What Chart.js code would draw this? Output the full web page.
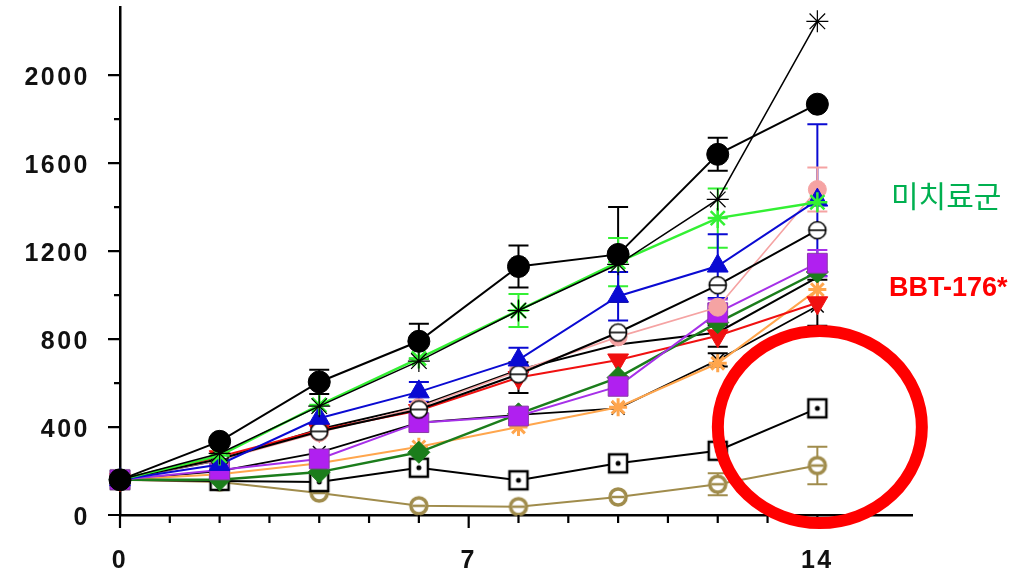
<!DOCTYPE html>
<html>
<head>
<meta charset="utf-8">
<script src="https://cdn.jsdelivr.net/npm/chart.js@4.4.1/dist/chart.umd.min.js"></script>
<style>
    html, body { margin: 0; padding: 0; background: #fff; }
    #wrap { position: relative; width: 1036px; height: 572px; overflow: hidden; }
    #wrap canvas { position: absolute; left: 0; top: 0; }
    .note { position: absolute; white-space: nowrap; line-height: 1; }
    #untreated { left: 891px; top: 172px; font: 30px "Noto Sans CJK KR"; color: #00b050; }
    #bbt { left: 889px; top: 272px; font: bold 27px "Liberation Sans"; color: #ff0000; }
</style>
</head>
<body>
<div id="wrap">
    <canvas id="growthChart" width="1036" height="572"></canvas>
    <div class="note" id="untreated">미치료군</div>
    <div class="note" id="bbt">BBT-176*</div>
</div>
<script>
// x positions (days) and axis labels
const days = [0, 2, 4, 6, 8, 10, 12, 14];
const xLabelDays = [0, 7, 14];
const yLabelValues = [0, 400, 800, 1200, 1600, 2000];

// group means
const blackCircle  = [160, 335, 605, 790, 1130, 1185, 1640, 1868];
const blackStar    = [160, 280, 495, 700, 930, 1140, 1435, 2245];
const greenStar    = [160, 270, 500, 712, 930, 1150, 1350, 1422];
const blueTriangle = [160, 230, 440, 560, 705, 995, 1132, 1432];
const openCircle   = [160, 255, 380, 480, 640, 830, 1045, 1295];
const pinkCircle   = [160, 250, 375, 490, 655, 810, 945, 1480];
const purpleSquare = [160, 205, 255, 420, 450, 585, 920, 1145];
const greenDiamond = [160, 160, 195, 285, 460, 625, 875, 1105];
const redTriangle  = [160, 265, 385, 475, 625, 705, 815, 965];
const orangeCross  = [160, 185, 235, 310, 400, 490, 690, 1025];
const blackCross   = [160, 200, 285, 420, 455, 485, 705, 950];
const blackPlain   = [160, 250, 390, 495, 660, 775, 830, 1080];
const openSquare   = [160, 155, 150, 215, 158, 235, 292, 485];
const oliveRing    = [160, 150, 100, 42, 38, 82, 140, 225];

// error bars (SEM), 0 = not visible
const blackCircleErr  = [0, 0, 55, 80, 95, 215, 75, 0];
const greenStarErr    = [0, 0, 0, 0, 75, 110, 135, 0];
const blueTriangleErr = [0, 0, 0, 45, 55, 110, 145, 345];
const pinkCircleErr   = [0, 0, 0, 0, 0, 0, 0, 100];
const purpleSquareErr = [0, 0, 0, 0, 0, 0, 60, 60];
const redTriangleErr  = [0, 0, 0, 0, 70, 0, 50, 105];
const blackCrossErr   = [0, 0, 0, 0, 0, 0, 30, 0];
const oliveRingErr    = [0, 0, 0, 0, 0, 0, 50, 85];

// red highlight ring around the day 14 result
const ringCenter = { day: 14.05, value: 400 };
const ringRadius = { x: 102, y: 96 };

function makeMarker(w, h, paint) {
    const c = document.createElement('canvas');
    c.width = w;
    c.height = h;
    paint(c.getContext('2d'), w / 2, h / 2);
    return c;
}

const openSquareMarker = makeMarker(24, 24, (ctx, cx, cy) => {
    ctx.fillStyle = '#fff';
    ctx.strokeStyle = '#000';
    ctx.lineWidth = 2.5;
    ctx.fillRect(3, 3, 18, 18);
    ctx.strokeRect(3, 3, 18, 18);
    ctx.fillStyle = '#000';
    ctx.beginPath();
    ctx.arc(cx, cy, 2.5, 0, Math.PI * 2);
    ctx.fill();
});

const oliveRingMarker = makeMarker(22, 22, (ctx, cx, cy) => {
    ctx.fillStyle = '#fff';
    ctx.strokeStyle = '#a08c4c';
    ctx.lineWidth = 3.5;
    ctx.beginPath();
    ctx.arc(cx, cy, 8, 0, Math.PI * 2);
    ctx.fill();
    ctx.stroke();
    ctx.lineWidth = 2.5;
    ctx.beginPath();
    ctx.moveTo(cx - 6, cy);
    ctx.lineTo(cx + 6, cy);
    ctx.stroke();
});

const openCircleMarker = makeMarker(22, 22, (ctx, cx, cy) => {
    ctx.fillStyle = '#fff';
    ctx.strokeStyle = '#000';
    ctx.lineWidth = 1.6;
    ctx.beginPath();
    ctx.arc(cx, cy, 8.5, 0, Math.PI * 2);
    ctx.fill();
    ctx.stroke();
    ctx.beginPath();
    ctx.moveTo(cx - 8, cy);
    ctx.lineTo(cx + 8, cy);
    ctx.stroke();
});

function series(values, err, style) {
    return Object.assign({
        data: days.map((d, i) => ({ x: d, y: values[i] })),
        err: err,
        borderWidth: 2,
        tension: 0,
        clip: false,
        pointBorderWidth: 1
    }, style);
}

const datasets = [
    series(blackCircle, blackCircleErr, {
        borderColor: '#000', backgroundColor: '#000',
        pointStyle: 'circle', pointRadius: 11
    }),
    series(blackStar, null, {
        borderColor: '#000', backgroundColor: '#000', borderWidth: 1.5,
        pointStyle: 'star', pointRadius: 11, pointBorderWidth: 1.2
    }),
    series(greenStar, greenStarErr, {
        borderColor: '#33f033', backgroundColor: '#33f033', borderWidth: 2.5,
        pointStyle: 'star', pointRadius: 10, pointBorderWidth: 2.5
    }),
    series(blueTriangle, blueTriangleErr, {
        borderColor: '#0a0ad2', backgroundColor: '#0a0ad2',
        pointStyle: 'triangle', pointRadius: 12
    }),
    series(openCircle, null, {
        borderColor: '#000', backgroundColor: '#000',
        pointStyle: openCircleMarker
    }),
    series(pinkCircle, pinkCircleErr, {
        borderColor: '#f5a3a3', backgroundColor: '#f5a3a3', borderWidth: 1.6,
        pointStyle: 'circle', pointRadius: 9
    }),
    series(purpleSquare, purpleSquareErr, {
        borderColor: '#a630e8', backgroundColor: '#b020f0',
        pointStyle: 'rect', pointRadius: 14, pointBorderColor: '#8a3aa8'
    }),
    series(greenDiamond, null, {
        borderColor: '#1b7d1b', backgroundColor: '#1b7d1b', borderWidth: 2.5,
        pointStyle: 'rectRot', pointRadius: 11
    }),
    series(redTriangle, redTriangleErr, {
        borderColor: '#f01010', backgroundColor: '#f01010',
        pointStyle: 'triangle', pointRotation: 180, pointRadius: 12,
        errColor: '#000'
    }),
    series(orangeCross, null, {
        borderColor: '#ffa64d', backgroundColor: '#ffa64d',
        pointStyle: 'star', pointRadius: 9, pointBorderWidth: 3
    }),
    series(blackCross, blackCrossErr, {
        borderColor: '#000', backgroundColor: '#000', borderWidth: 1.8,
        pointStyle: 'crossRot', pointRadius: 9, pointBorderWidth: 1.5
    }),
    series(blackPlain, null, {
        borderColor: '#000', backgroundColor: '#000',
        pointRadius: 0
    }),
    series(openSquare, null, {
        borderColor: '#000', backgroundColor: '#000',
        pointStyle: openSquareMarker
    }),
    series(oliveRing, oliveRingErr, {
        borderColor: '#a08c4c', backgroundColor: '#a08c4c',
        pointStyle: oliveRingMarker
    })
];

/**
 * Vertical error bars with caps, drawn under the markers
 */
const errorBars = {
    id: 'errorBars',
    beforeDatasetsDraw(chart) {
        const { ctx, scales: { y } } = chart;
        ctx.save();
        chart.data.datasets.forEach((ds, di) => {
            if (!ds.err) return;
            const meta = chart.getDatasetMeta(di);
            ctx.strokeStyle = ds.errColor || ds.borderColor;
            ctx.lineWidth = 2;
            ds.err.forEach((e, i) => {
                if (!e) return;
                const pt = meta.data[i];
                const v = ds.data[i].y;
                const top = y.getPixelForValue(v + e);
                const bot = y.getPixelForValue(Math.max(v - e, 0));
                ctx.beginPath();
                ctx.moveTo(pt.x, top);
                ctx.lineTo(pt.x, bot);
                ctx.moveTo(pt.x - 10, top);
                ctx.lineTo(pt.x + 10, top);
                ctx.moveTo(pt.x - 10, bot);
                ctx.lineTo(pt.x + 10, bot);
                ctx.stroke();
            });
        });
        ctx.restore();
    }
};

/**
 * Outward tick marks: long at labelled values, short otherwise
 */
const axisTicks = {
    id: 'axisTicks',
    beforeDraw(chart) {
        chart.ctx.letterSpacing = '2.5px';
    },
    afterDraw(chart) {
        const { ctx, chartArea, scales: { x, y } } = chart;
        ctx.save();
        ctx.strokeStyle = '#000';
        ctx.lineWidth = 2.2;
        ctx.beginPath();
        y.ticks.forEach(t => {
            const py = y.getPixelForValue(t.value);
            const len = yLabelValues.includes(t.value) ? 12 : 6;
            ctx.moveTo(chartArea.left - len, py);
            ctx.lineTo(chartArea.left, py);
        });
        x.ticks.forEach(t => {
            const px = x.getPixelForValue(t.value);
            const len = xLabelDays.includes(t.value) ? 13 : 8;
            ctx.moveTo(px, chartArea.bottom);
            ctx.lineTo(px, chartArea.bottom + len);
        });
        ctx.stroke();

        // highlight ring
        ctx.strokeStyle = '#ff0000';
        ctx.lineWidth = 12;
        ctx.beginPath();
        ctx.ellipse(x.getPixelForValue(ringCenter.day), y.getPixelForValue(ringCenter.value),
            ringRadius.x, ringRadius.y, 0, 0, Math.PI * 2);
        ctx.stroke();
        ctx.restore();
        ctx.letterSpacing = '0px';
    }
};

const tickFont = { family: 'Liberation Sans', size: 25, weight: 'bold' };

new Chart(document.getElementById('growthChart'), {
    type: 'line',
    data: { datasets: datasets },
    options: {
        responsive: false,
        animation: false,
        events: [],
        layout: { autoPadding: false, padding: { top: 7, right: 124, left: 0, bottom: 0 } },
        plugins: { legend: { display: false }, tooltip: { enabled: false } },
        scales: {
            x: {
                type: 'linear',
                min: 0,
                max: 15.9,
                afterBuildTicks(scale) {
                    scale.ticks = scale.ticks.filter(t => Number.isInteger(t.value));
                },
                afterFit(scale) {
                    scale.height = 57;
                    scale.paddingLeft = 0;
                    scale.paddingRight = 0;
                },
                ticks: {
                    stepSize: 1,
                    autoSkip: false,
                    maxRotation: 0,
                    padding: 31,
                    color: '#111',
                    font: tickFont,
                    callback: v => xLabelDays.includes(v) ? String(v) : ''
                },
                grid: { display: true, drawOnChartArea: false, drawTicks: false },
                border: { display: true, color: '#000', width: 2.5 }
            },
            y: {
                min: 0,
                max: 2310,
                afterBuildTicks(scale) {
                    scale.ticks = scale.ticks.filter(t => t.value % 200 === 0);
                },
                afterFit(scale) {
                    scale.width = 120;
                    scale.paddingTop = 0;
                    scale.paddingBottom = 0;
                },
                ticks: {
                    stepSize: 200,
                    autoSkip: false,
                    padding: 30,
                    labelOffset: 3,
                    color: '#111',
                    font: tickFont,
                    callback: v => yLabelValues.includes(v) ? String(v) : ''
                },
                grid: { display: true, drawOnChartArea: false, drawTicks: false },
                border: { display: true, color: '#000', width: 2.5 }
            }
        }
    },
    plugins: [errorBars, axisTicks]
});
</script>
</body>
</html>
